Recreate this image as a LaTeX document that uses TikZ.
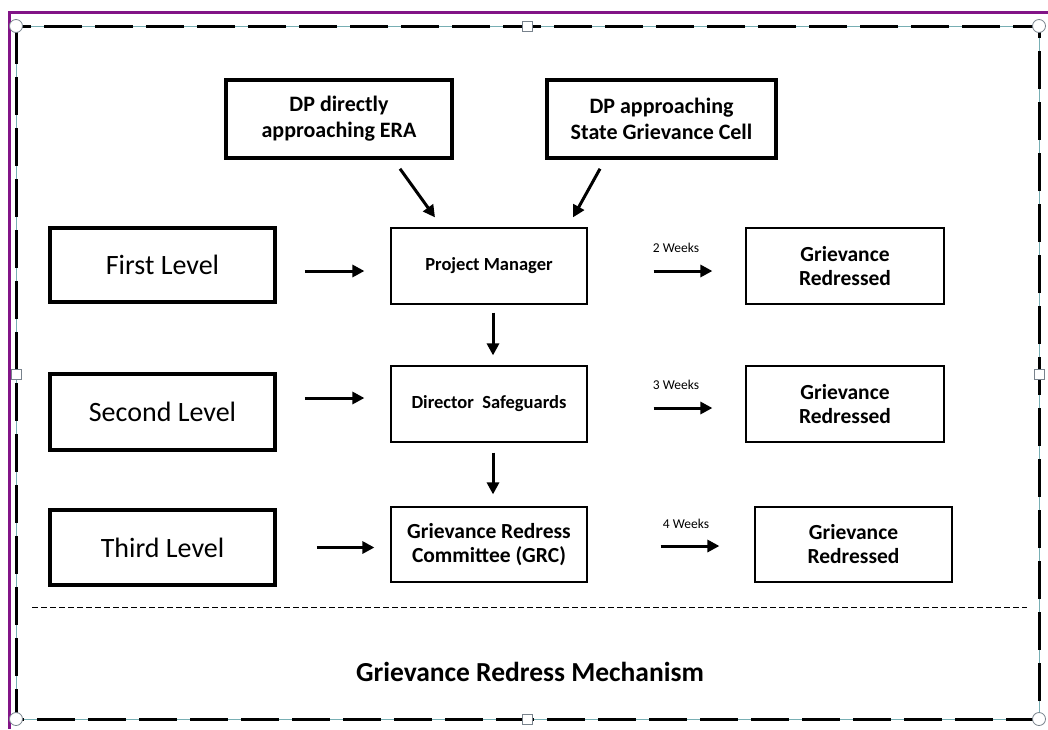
\documentclass[tikz,border=0pt]{standalone}
\usepackage{fontspec}
\setmainfont{Carlito}
\usetikzlibrary{arrows.meta}
\definecolor{pframe}{RGB}{130,20,135}
\definecolor{handle}{RGB}{120,130,140}
\definecolor{selline}{RGB}{120,175,180}
\begin{document}
\begin{tikzpicture}[x=1pt,y=-1pt,
  thickbox/.style={draw, line width=3.5pt, inner sep=0pt, align=center},
  levelbox/.style={thickbox, font=\fontsize{28}{32}\selectfont},
  srcbox/.style={thickbox, font=\bfseries\fontsize{22}{26}\selectfont},
  thinbox/.style={draw, line width=1.2pt, inner sep=0pt, align=center},
  smallbold/.style={font=\bfseries\fontsize{18.5}{23}\selectfont},
  bigbold/.style={font=\bfseries\fontsize{21.5}{24}\selectfont},
  arr/.style={line width=3pt, -{Triangle[length=12pt,width=12pt]}},
  weeks/.style={font=\fontsize{13.5}{15}\selectfont, inner sep=0pt},
  circhandle/.style={circle, draw=handle, fill=white, line width=0.8pt, minimum size=13pt, inner sep=0pt},
  sqhandle/.style={rectangle, draw=handle, fill=white, line width=0.8pt, minimum size=10pt, inner sep=0pt}]
\useasboundingbox (0,0) rectangle (1048,729);
% outer purple lines
\draw[pframe, line width=3pt] (8,12) -- (1048,12);
\draw[pframe, line width=3pt] (9,12) -- (9,729);
% selection frame
\draw[selline, line width=0.8pt] (16,26) rectangle (1039,719);
\draw[black, line width=3pt, dash pattern=on 38pt off 13pt] (16,26) rectangle (1039,719);
\node[circhandle] (h1) at (16,26) {};
\node[circhandle] (h2) at (1039,26) {};
\node[circhandle] (h3) at (16,719) {};
\node[circhandle] (h4) at (1039,719) {};
\node[sqhandle] (h5) at (527,26) {};
\node[sqhandle] (h6) at (527,719) {};
\node[sqhandle] (h7) at (16,374) {};
\node[sqhandle] (h8) at (1039,374) {};
% boxes
\node[srcbox, minimum width=226pt, minimum height=78pt] (dpa) at (339,119) {DP directly\\approaching ERA};
\node[srcbox, minimum width=229pt, minimum height=78pt] (dpb) at (661.5,119) {DP approaching\\State Grievance Cell};
\node[levelbox, minimum width=225pt, minimum height=74pt] (first) at (162.5,265) {First Level};
\node[levelbox, minimum width=225pt, minimum height=76pt] (second) at (162.5,412) {Second Level};
\node[levelbox, minimum width=225pt, minimum height=75pt] (third) at (162.5,547.5) {Third Level};
\node[thinbox, smallbold, minimum width=196pt, minimum height=76pt] (pm) at (489,266) {Project Manager};
\node[thinbox, smallbold, minimum width=196pt, minimum height=76pt] (ds) at (489,404) {Director~ Safeguards};
\node[thinbox, bigbold, minimum width=196pt, minimum height=75pt] (grc) at (489,544.5) {Grievance Redress\\Committee (GRC)};
\node[thinbox, bigbold, minimum width=198pt, minimum height=76pt] (gr1) at (845,266) {Grievance\\Redressed};
\node[thinbox, bigbold, minimum width=198pt, minimum height=76pt] (gr2) at (845,404) {Grievance\\Redressed};
\node[thinbox, bigbold, minimum width=197pt, minimum height=75pt] (gr3) at (853.5,544.5) {Grievance\\Redressed};
% arrows from sources
\draw[arr] ([xshift=61pt,yshift=-9pt]dpa.south) -- ([xshift=-54pt,yshift=10pt]pm.north);
\draw[arr] ([xshift=-61.5pt,yshift=-9pt]dpb.south) -- ([xshift=84pt,yshift=10pt]pm.north);
% level arrows
\draw[arr, shorten <=28pt, shorten >=26pt] ([yshift=-6pt]first.east) -- ([yshift=-5pt]pm.west);
\draw[arr, shorten <=28pt, shorten >=26pt] ([yshift=14pt]second.east) -- ([yshift=6pt]ds.west);
\draw[arr, shorten <=40pt, shorten >=16pt] ([yshift=0pt]third.east) -- ([yshift=-3pt]grc.west);
% vertical arrows
\draw[arr, shorten <=8pt, shorten >=10pt] ([xshift=4pt]pm.south) -- ([xshift=4pt]ds.north);
\draw[arr, shorten <=10pt, shorten >=12pt] ([xshift=4pt]ds.south) -- ([xshift=4pt]grc.north);
% weeks arrows
\draw[arr, shorten <=66pt, shorten >=33pt] ([yshift=-5pt]pm.east) -- ([yshift=-5pt]gr1.west) node[weeks, pos=0.56, above=17pt] (w2) {2 Weeks};
\draw[arr, shorten <=66pt, shorten >=33pt] ([yshift=-4pt]ds.east) -- ([yshift=-4pt]gr2.west) node[weeks, pos=0.56, above=17pt] (w3) {3 Weeks};
\draw[arr, shorten <=73pt, shorten >=35pt] ([yshift=-1.5pt]grc.east) -- ([yshift=-1.5pt]gr3.west) node[weeks, pos=0.59, above=16pt] (w4) {4 Weeks};
% separator
\coordinate (sepL) at (32,607);
\coordinate (sepR) at (1027,607);
\draw[line width=0.9pt, dash pattern=on 6pt off 3pt] (sepL) -- (sepR);
\node[font=\bfseries\fontsize{27.5}{32}\selectfont] (title) at (530,672) {Grievance Redress Mechanism};
\end{tikzpicture}
\end{document}
